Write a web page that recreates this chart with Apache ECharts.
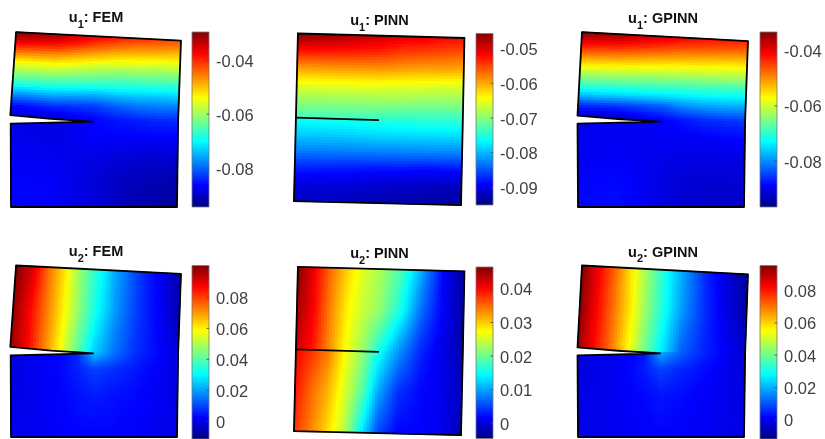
<!DOCTYPE html>
<html>
<head>
<meta charset="utf-8">
<style>html,body{margin:0;padding:0;background:#fff;overflow:hidden}#c{width:825px;height:439px;filter:blur(0.55px)}</style>
<script src="https://cdn.jsdelivr.net/npm/echarts@6/dist/echarts.min.js"></script>
</head>
<body>
<div id="c"></div>
<script>
// Sample positions across the plate (s: left to right, t: top to bottom; t=0.5 twice = either side of the crack)
const u1Cols = [0, .25, .5, .62, .75, .88, 1];
const u2Cols = [0, .1, .2, .3, .4, .5, .62, .75, .88, 1];
const u1FemRows = [0, .06, .12, .18, .24, .30, .36, .42, .5, .5, .6, .72, .86, 1];
const u1PinnRows = [0, .1, .2, .3, .4, .5, .5, .6, .7, .8, .9, 1];
const u2FemRows = [0, .25, .5, .5, .6, .75, 1];
const u2PinnRows = [0, .25, .5, .5, .75, 1];

// Displacement fields
const u1Fem = [
 [-.0296,-.0315,-.0367,-.0387,-.0400,-.0413,-.0426],
 [-.0367,-.0380,-.0426,-.0445,-.0458,-.0464,-.0471],
 [-.0458,-.0464,-.0497,-.0510,-.0516,-.0523,-.0523],
 [-.0549,-.0542,-.0568,-.0575,-.0575,-.0581,-.0581],
 [-.0614,-.0614,-.0626,-.0633,-.0633,-.0633,-.0633],
 [-.0685,-.0678,-.0685,-.0685,-.0685,-.0685,-.0685],
 [-.0776,-.0756,-.0763,-.0750,-.0743,-.0743,-.0737],
 [-.0860,-.0834,-.0827,-.0808,-.0795,-.0788,-.0788],
 [-.0899,-.0899,-.0866,-.0853,-.0847,-.0840,-.0840],
 [-.0873,-.0886,-.0860,-.0853,-.0847,-.0840,-.0840],
 [-.0873,-.0879,-.0866,-.0866,-.0866,-.0866,-.0866],
 [-.0866,-.0873,-.0879,-.0886,-.0892,-.0892,-.0892],
 [-.0863,-.0866,-.0886,-.0899,-.0908,-.0912,-.0918],
 [-.0863,-.0866,-.0886,-.0899,-.0912,-.0918,-.0925]];
const u1Pinn = [
 [-.0457,-.0472,-.0492,-.0502,-.0507,-.0517,-.0522],
 [-.0522,-.0526,-.0536,-.0546,-.0551,-.0556,-.0561],
 [-.0590,-.0590,-.0590,-.0595,-.0600,-.0600,-.0605],
 [-.0650,-.0650,-.0650,-.0655,-.0655,-.0660,-.0660],
 [-.0694,-.0694,-.0694,-.0694,-.0699,-.0699,-.0699],
 [-.0733,-.0733,-.0738,-.0743,-.0743,-.0743,-.0743],
 [-.0758,-.0753,-.0748,-.0748,-.0743,-.0743,-.0743],
 [-.0788,-.0788,-.0783,-.0783,-.0783,-.0783,-.0783],
 [-.0827,-.0827,-.0827,-.0827,-.0827,-.0827,-.0827],
 [-.0872,-.0876,-.0881,-.0881,-.0886,-.0886,-.0886],
 [-.0906,-.0906,-.0911,-.0916,-.0916,-.0921,-.0921],
 [-.0916,-.0921,-.0926,-.0926,-.0931,-.0931,-.0931]];
const u1Gpinn = [
 [-.0332,-.0351,-.0389,-.0402,-.0415,-.0421,-.0427],
 [-.0402,-.0415,-.0440,-.0453,-.0459,-.0465,-.0472],
 [-.0472,-.0484,-.0503,-.0510,-.0516,-.0523,-.0523],
 [-.0548,-.0554,-.0567,-.0573,-.0573,-.0580,-.0580],
 [-.0624,-.0624,-.0630,-.0630,-.0630,-.0630,-.0630],
 [-.0688,-.0688,-.0688,-.0688,-.0688,-.0688,-.0688],
 [-.0764,-.0757,-.0751,-.0745,-.0738,-.0738,-.0738],
 [-.0859,-.0853,-.0834,-.0808,-.0796,-.0789,-.0789],
 [-.0929,-.0929,-.0891,-.0878,-.0865,-.0859,-.0853],
 [-.0897,-.0897,-.0891,-.0878,-.0865,-.0859,-.0853],
 [-.0897,-.0897,-.0894,-.0894,-.0891,-.0888,-.0884],
 [-.0894,-.0891,-.0900,-.0904,-.0904,-.0904,-.0904],
 [-.0888,-.0884,-.0904,-.0913,-.0916,-.0916,-.0913],
 [-.0884,-.0881,-.0904,-.0916,-.0919,-.0923,-.0923]];
const u2Fem = [
 [.1005,.0916,.0748,.0614,.0457,.0334,.0200,.0088,.0010,-.0068],
 [.0983,.0871,.0737,.0603,.0457,.0323,.0189,.0088,.0021,-.0057],
 [.0971,.0871,.0726,.0580,.0412,.0256,.0155,.0077,.0032,-.0012],
 [-.0012,-.0001,.0016,.0027,.0066,.0256,.0155,.0077,.0032,-.0012],
 [-.0007,.0004,.0016,.0032,.0060,.0099,.0077,.0049,.0021,-.0007],
 [-.0001,.0004,.0016,.0027,.0043,.0055,.0043,.0032,.0016,-.0001],
 [.0004,.0010,.0016,.0021,.0027,.0027,.0027,.0021,.0010,.0004]];
const u2Pinn = [
 [.0465,.0409,.0348,.0297,.0256,.0230,.0185,.0103,.0016,-.0030],
 [.0450,.0404,.0338,.0281,.0246,.0220,.0159,.0072,.0016,-.0025],
 [.0424,.0394,.0332,.0271,.0225,.0159,.0093,.0037,.0006,-.0020],
 [.0404,.0378,.0338,.0271,.0220,.0154,.0093,.0037,.0006,-.0020],
 [.0394,.0348,.0312,.0256,.0195,.0103,.0042,.0021,.0011,-.0014],
 [.0378,.0338,.0292,.0241,.0144,.0057,.0019,.0019,.0011,-.0014]];
const u2Gpinn = [
 [.0954,.0836,.0718,.0579,.0439,.0311,.0182,.0054,-.0022,-.0086],
 [.0943,.0825,.0707,.0579,.0439,.0311,.0171,.0064,-.0011,-.0075],
 [.0922,.0815,.0697,.0557,.0407,.0268,.0118,.0054,.0011,-.0032],
 [-.0016,-.0011,-.0005,.0005,.0032,.0204,.0118,.0054,.0011,-.0032],
 [-.0016,-.0011,0,.0016,.0043,.0086,.0054,.0027,0,-.0022],
 [-.0011,-.0005,0,.0011,.0021,.0037,.0027,.0011,-.0005,-.0016],
 [-.0005,-.0005,0,.0005,.0011,.0016,.0011,.0005,-.0005,-.0011]];

// Deformed plate shapes in plate units (left / right edge at t = 0, .5, 1; crack up, mid, tip, low)
const femLeft = [[5.6,98.3],[2.5,49.7],[2.8,1.1]];
const femRight = [[97.2,93.5],[95.6,48.3],[95,1.1]];
const femCrack = [[2.4,52.2],[25,50.1],[48.3,48.5],[2.6,47.4]];
const pinnLeft = [[4.4,97.5],[3.3,50.8],[2.2,4.4]];
const pinnRight = [[96.9,95],[96,48.9],[95,2.2]];
const pinnCrack = [[3.3,50.8],[49.4,49.4]];
const gpinnLeft = [[5,98.3],[2.5,49.7],[2.8,1.1]];
const gpinnRight = [[97.2,93.3],[95.6,48.3],[95,1.1]];
const gpinnCrack = [[2.5,51.9],[25,50],[48.3,48.5],[2.5,47.4]];

// Colour bars: range and tick labels
const barRange = {
  u1Fem:[-.0944,-.0296], u1Pinn:[-.09504,-.0457], u1Gpinn:[-.0967,-.0332],
  u2Fem:[-.0113,.1005], u2Pinn:[-.0045,.0465], u2Gpinn:[-.0118,.0954]
};
const u1FemTicks = ['-0.04','-0.06','-0.08'];
const u1PinnTicks = ['-0.05','-0.06','-0.07','-0.08','-0.09'];
const u1GpinnTicks = ['-0.04','-0.06','-0.08'];
const u2FemTicks = ['0.08','0.06','0.04','0.02','0'];
const u2PinnTicks = ['0.04','0.03','0.02','0.01','0'];
const u2GpinnTicks = ['0.08','0.06','0.04','0.02','0'];

const jetStops = [[0,[0,0,128]],[.125,[0,0,255]],[.375,[0,255,255]],[.625,[255,255,0]],[.875,[255,0,0]],[1,[128,0,0]]];
function jet(f){
  f = Math.max(0,Math.min(1,f));
  for(let i=1;i<jetStops.length;i++){
    if(f<=jetStops[i][0]){
      const a=jetStops[i-1],b=jetStops[i],k=(f-a[0])/(b[0]-a[0]);
      return 'rgb('+a[1].map((c,j)=>Math.round(c+(b[1][j]-c)*k)).join(',')+')';
    }
  }
  return 'rgb(128,0,0)';
}
const mix=(a,b,k)=>[a[0]+(b[0]-a[0])*k,a[1]+(b[1]-a[1])*k];
const edgeAt=(e,t)=>t<=.5?mix(e[0],e[1],t/.5):mix(e[1],e[2],(t-.5)/.5);

const panels = [
 {title:'1',name:'FEM',cx:96,ty:6,gx:6,gy:29,bx:192,by:32,bh:175,vals:u1Fem,cols:u1Cols,rows:u1FemRows,l:femLeft,r:femRight,c:femCrack,range:barRange.u1Fem,ticks:u1FemTicks},
 {title:'1',name:'PINN',cx:379.5,ty:9,gx:290,gy:29,bx:476,by:33.5,bh:171.5,vals:u1Pinn,cols:u1Cols,rows:u1PinnRows,l:pinnLeft,r:pinnRight,c:pinnCrack,range:barRange.u1Pinn,ticks:u1PinnTicks},
 {title:'1',name:'GPINN',cx:663,ty:7,gx:573,gy:29,bx:760,by:32,bh:175,vals:u1Gpinn,cols:u1Cols,rows:u1FemRows,l:gpinnLeft,r:gpinnRight,c:gpinnCrack,range:barRange.u1Gpinn,ticks:u1GpinnTicks},
 {title:'2',name:'FEM',cx:96,ty:240,gx:6,gy:262.5,bx:192,by:265.5,bh:175.5,vals:u2Fem,cols:u2Cols,rows:u2FemRows,l:femLeft,r:femRight,c:femCrack,range:barRange.u2Fem,ticks:u2FemTicks},
 {title:'2',name:'PINN',cx:379.5,ty:242,gx:290,gy:262.5,bx:476,by:267,bh:171.5,vals:u2Pinn,cols:u2Cols,rows:u2PinnRows,l:pinnLeft,r:pinnRight,c:pinnCrack,range:barRange.u2Pinn,ticks:u2PinnTicks},
 {title:'2',name:'GPINN',cx:663,ty:240.5,gx:573,gy:262.5,bx:760,by:265.5,bh:175.5,vals:u2Gpinn,cols:u2Cols,rows:u2FemRows,l:gpinnLeft,r:gpinnRight,c:gpinnCrack,range:barRange.u2Gpinn,ticks:u2GpinnTicks}
];

const grid=[],xAxis=[],yAxis=[],series=[],title=[];
const hidden={show:false};
panels.forEach((p,pi)=>{
  const g1=grid.length;
  grid.push({left:p.gx,top:p.gy,width:180,height:180,containLabel:false});
  xAxis.push({type:'value',gridIndex:g1,min:0,max:100,axisLine:hidden,axisTick:hidden,axisLabel:hidden,splitLine:hidden});
  yAxis.push({type:'value',gridIndex:g1,min:0,max:100,axisLine:hidden,axisTick:hidden,axisLabel:hidden,splitLine:hidden});
  const g2=grid.length;
  grid.push({left:p.bx,top:p.by,width:17,height:p.bh});
  xAxis.push({type:'value',gridIndex:g2,min:0,max:1,axisLine:hidden,axisTick:hidden,axisLabel:hidden,splitLine:hidden});
  const tickVals=p.ticks.map(Number);
  yAxis.push({type:'value',gridIndex:g2,position:'right',min:p.range[0],max:p.range[1],
    axisLine:hidden,splitLine:hidden,axisTick:hidden,
    axisLabel:{show:true,customValues:tickVals,margin:7,
      formatter:v=>'{a|'+p.ticks[tickVals.findIndex(t=>Math.abs(t-v)<1e-9)]+'}',
      rich:{a:{color:'#404040',fontFamily:'Liberation Sans',fontSize:16.5,padding:[4,0,0,0]}}}});

  title.push({left:p.cx,top:p.ty,textAlign:'center',padding:0,
    text:'{b|u}{s|'+p.title+'}{b|: '+p.name+'}',
    textStyle:{rich:{
      b:{fontFamily:'Liberation Sans',fontWeight:'bold',fontSize:14.5,color:'#111',lineHeight:16},
      s:{fontFamily:'Liberation Sans',fontWeight:'bold',fontSize:11,color:'#111',padding:[13,0,0,0]}
    }}});

  // colour field
  const cells=[];
  for(let i=0;i<p.rows.length-1;i++){
    if(p.rows[i+1]===p.rows[i]) continue;
    for(let j=0;j<p.cols.length-1;j++) cells.push([i,j]);
  }
  const fScale=v=>(v-p.range[0])/(p.range[1]-p.range[0]);
  series.push({type:'custom',xAxisIndex:g1,yAxisIndex:g1,silent:true,animation:false,clip:false,z:2,
    data:cells,
    renderItem:(params,api)=>{
      const i=api.value(0),j=api.value(1);
      const t0=p.rows[i],t1=p.rows[i+1],s0=p.cols[j],s1=p.cols[j+1];
      const pos=(s,t)=>api.coord(mix(edgeAt(p.l,t),edgeAt(p.r,t),s));
      const pxW=Math.abs(pos(s1,t0)[0]-pos(s0,t0)[0]), pxH=Math.abs(pos(s0,t1)[1]-pos(s0,t0)[1]);
      const nS=Math.max(1,Math.ceil(pxW/3)), nT=Math.max(1,Math.ceil(pxH/3));
      const children=[];
      for(let a=0;a<nT;a++){
        for(let b=0;b<nS;b++){
          const ta=t0+(t1-t0)*a/nT,tb=t0+(t1-t0)*(a+1)/nT;
          const sa=s0+(s1-s0)*b/nS,sb=s0+(s1-s0)*(b+1)/nS;
          const ka=(a+.5)/nT,kb=(b+.5)/nS;
          const v=(p.vals[i][j]*(1-kb)+p.vals[i][j+1]*kb)*(1-ka)+(p.vals[i+1][j]*(1-kb)+p.vals[i+1][j+1]*kb)*ka;
          const col=jet(fScale(v));
          children.push({type:'polygon',silent:true,shape:{points:[pos(sa,ta),pos(sb,ta),pos(sb,tb),pos(sa,tb)]},
            style:{fill:col,stroke:col,lineWidth:1}});
        }
      }
      return {type:'group',children};
    }});

  // plate outline and crack
  series.push({type:'custom',xAxisIndex:g1,yAxisIndex:g1,silent:true,animation:false,clip:false,z:5,
    data:[[pi]],
    renderItem:(params,api)=>{
      const C=q=>api.coord(q);
      const ch=[];
      if(p.c.length===4){
        const [up,mid,tip,low]=p.c;
        ch.push({type:'polygon',silent:true,shape:{points:[up,mid,tip,low,[low[0]-3,low[1]],[up[0]-3,up[1]]].map(C)},style:{fill:'#fff',stroke:null}});
        ch.push({type:'polygon',silent:true,shape:{points:[p.l[0],p.r[0],p.r[1],p.r[2],p.l[2],low,tip,mid,up].map(C)},
          style:{fill:null,stroke:'#000',lineWidth:1.8,lineJoin:'round'}});
      }else{
        ch.push({type:'polygon',silent:true,shape:{points:[p.l[0],p.r[0],p.r[1],p.r[2],p.l[2],p.l[1]].map(C)},
          style:{fill:null,stroke:'#000',lineWidth:1.8}});
        ch.push({type:'polyline',silent:true,shape:{points:p.c.map(C)},style:{fill:null,stroke:'#000',lineWidth:1.8}});
      }
      return {type:'group',children:ch};
    }});

  // colour bar with inside ticks on its right edge
  series.push({type:'custom',xAxisIndex:g2,yAxisIndex:g2,silent:true,animation:false,clip:false,z:3,
    data:[[0,p.range[0],1,p.range[1]]],
    renderItem:(params,api)=>{
      const a=api.coord([api.value(0),api.value(1)]),b=api.coord([api.value(2),api.value(3)]);
      const stops=jetStops.map(s=>({offset:1-s[0],color:'rgb('+s[1].join(',')+')'})).reverse();
      const ch=[{type:'rect',silent:true,shape:{x:a[0],y:b[1],width:b[0]-a[0],height:a[1]-b[1]},
        style:{fill:new echarts.graphic.LinearGradient(0,0,0,1,stops),stroke:'#777',lineWidth:.8}}];
      tickVals.forEach(v=>{
        const q=api.coord([1,v]);
        ch.push({type:'line',silent:true,shape:{x1:q[0]-2.5,y1:q[1],x2:q[0],y2:q[1]},style:{stroke:'#444',lineWidth:.8}});
      });
      return {type:'group',children:ch};
    }});
});

const chart=echarts.init(document.getElementById('c'),null,{renderer:'canvas'});
chart.setOption({animation:false,backgroundColor:'#fff',title,grid,xAxis,yAxis,series});
</script>
</body>
</html>
